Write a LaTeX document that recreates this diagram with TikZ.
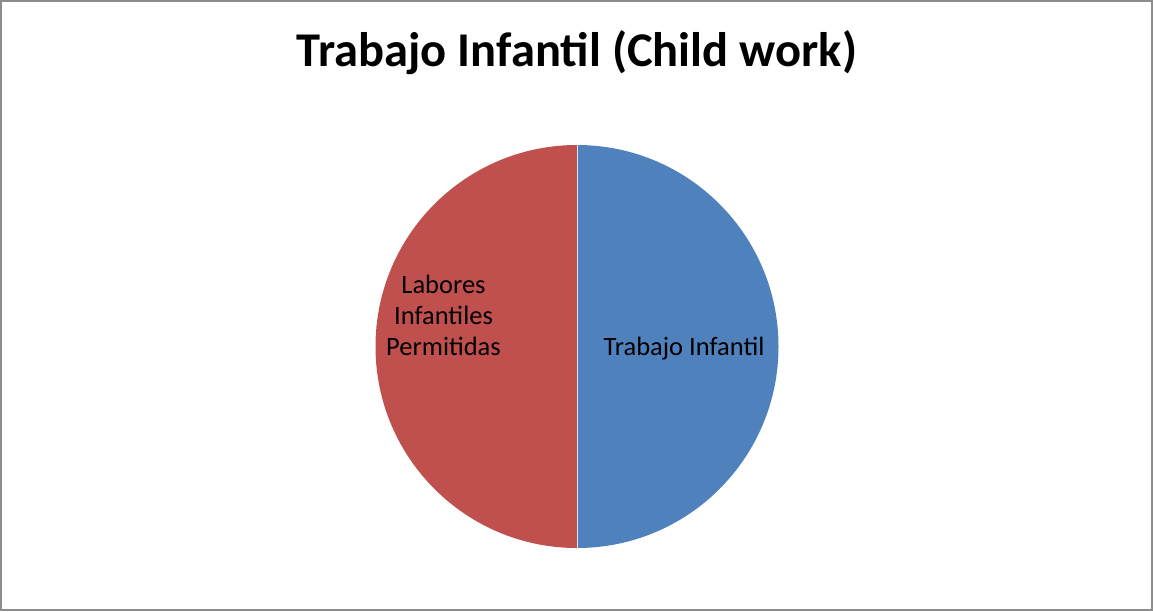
\documentclass[tikz,border=0pt]{standalone}
\usepackage{fontspec}
\setmainfont{Carlito}
\definecolor{pieblue}{HTML}{4F81BD}
\definecolor{piered}{HTML}{C0504D}
\definecolor{frame}{HTML}{8C8C8C}
\begin{document}
\begin{tikzpicture}[x=1pt,y=-1pt,
  lbl/.style={font=\fontsize{26.5}{30.5}\selectfont, align=center, inner sep=0pt},
  ttl/.style={font=\fontsize{48.5}{52}\selectfont\bfseries, inner sep=0pt}]
\useasboundingbox (0,0) rectangle (1153,611);
\draw[frame, line width=2.2] (1.1,1.1) rectangle (1151.9,609.9);
\node[ttl, anchor=base] (title) at (577,66) {Trabajo Infantil (Child work)};
\coordinate (c) at (577,346.5);
\fill[pieblue] (c) -- (577,145) arc[start angle=-90, end angle=90, radius=201.5] -- cycle;
\fill[piered] (c) -- (577,145) arc[start angle=-90, end angle=-270, radius=201.5] -- cycle;
\draw[white!80!pieblue, line width=0.8] (577,145) -- (577,548);
\node[lbl, anchor=base] (tr) at (684,355) {Trabajo Infantil};
\node[lbl, anchor=base] (l1) at (443.5,293.5) {Labores};
\node[lbl, anchor=base] (l2) at (443.5,324) {Infantiles};
\node[lbl, anchor=base] (l3) at (443.5,355) {Permitidas};
\end{tikzpicture}
\end{document}
